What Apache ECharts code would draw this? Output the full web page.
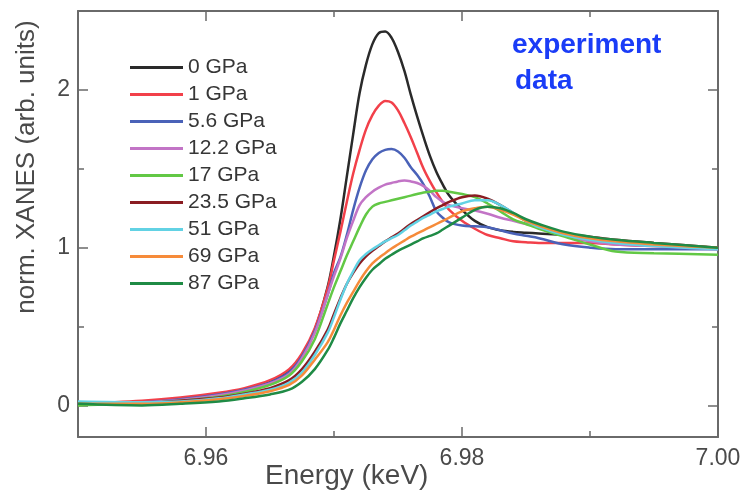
<!DOCTYPE html>
<html>
<head>
<meta charset="utf-8">
<style>
  html, body { margin: 0; padding: 0; background: #ffffff; }
  #chart { width: 746px; height: 500px; }
</style>
<script src="https://cdn.jsdelivr.net/npm/echarts@6/dist/echarts.min.js"></script>
</head>
<body>
<div id="chart"></div>
<script>
// Photon energy grid (keV)
const energy = [6.950, 6.955, 6.958, 6.961, 6.963, 6.965, 6.9665, 6.9675, 6.9685, 6.9695,
  6.970, 6.9705, 6.971, 6.9715, 6.972, 6.9725, 6.973, 6.9735, 6.974, 6.9745,
  6.975, 6.9755, 6.976, 6.9765, 6.977, 6.9775, 6.978, 6.9785, 6.979, 6.980,
  6.981, 6.982, 6.983, 6.984, 6.985, 6.986, 6.988, 6.990, 6.992, 6.995, 7.000];

// Normalised XANES intensity for each pressure
const p0 = [0.01, 0.02, 0.03, 0.06, 0.09, 0.15, 0.22, 0.32, 0.48, 0.75,
  0.95, 1.18, 1.45, 1.72, 1.98, 2.16, 2.29, 2.36, 2.37, 2.33,
  2.24, 2.12, 1.97, 1.83, 1.70, 1.58, 1.48, 1.40, 1.33, 1.24,
  1.17, 1.13, 1.11, 1.10, 1.095, 1.09, 1.08, 1.06, 1.04, 1.02, 1.00];
const p1 = [0.01, 0.03, 0.05, 0.08, 0.11, 0.16, 0.23, 0.33, 0.49, 0.74,
  0.92, 1.10, 1.29, 1.47, 1.62, 1.75, 1.84, 1.90, 1.93, 1.92,
  1.87, 1.79, 1.70, 1.60, 1.50, 1.42, 1.35, 1.29, 1.24, 1.17,
  1.12, 1.08, 1.06, 1.04, 1.035, 1.03, 1.03, 1.03, 1.02, 1.01, 1.00];
const p5_6 = [0.01, 0.02, 0.04, 0.07, 0.10, 0.145, 0.21, 0.31, 0.47, 0.70,
  0.84, 0.94, 1.08, 1.24, 1.38, 1.49, 1.56, 1.60, 1.62, 1.625,
  1.61, 1.57, 1.51, 1.46, 1.40, 1.32, 1.23, 1.19, 1.16, 1.14,
  1.135, 1.13, 1.11, 1.09, 1.075, 1.06, 1.02, 1.00, 0.99, 0.99, 0.99];
const p12_2 = [0.01, 0.02, 0.035, 0.065, 0.095, 0.14, 0.20, 0.30, 0.46, 0.70,
  0.82, 0.93, 1.06, 1.17, 1.27, 1.32, 1.355, 1.38, 1.40, 1.41,
  1.42, 1.425, 1.42, 1.41, 1.39, 1.36, 1.32, 1.29, 1.27, 1.25,
  1.235, 1.215, 1.19, 1.17, 1.15, 1.13, 1.08, 1.04, 1.02, 1.01, 0.99];
const p17 = [0.00, 0.015, 0.03, 0.055, 0.085, 0.13, 0.19, 0.28, 0.42, 0.64,
  0.75, 0.85, 0.95, 1.04, 1.13, 1.21, 1.26, 1.28, 1.29, 1.30,
  1.31, 1.32, 1.33, 1.34, 1.35, 1.355, 1.36, 1.36, 1.355, 1.34,
  1.32, 1.28, 1.23, 1.18, 1.15, 1.12, 1.07, 1.02, 0.975, 0.965, 0.955];
const p23_5 = [0.015, 0.015, 0.03, 0.05, 0.075, 0.11, 0.16, 0.23, 0.34, 0.48,
  0.58, 0.68, 0.77, 0.84, 0.90, 0.945, 0.98, 1.01, 1.04, 1.065,
  1.09, 1.12, 1.15, 1.175, 1.20, 1.225, 1.25, 1.27, 1.29, 1.32,
  1.33, 1.31, 1.27, 1.22, 1.17, 1.14, 1.09, 1.07, 1.05, 1.03, 1.00];
const p51 = [0.025, 0.02, 0.025, 0.045, 0.07, 0.10, 0.145, 0.21, 0.32, 0.46,
  0.56, 0.67, 0.77, 0.85, 0.92, 0.96, 0.99, 1.015, 1.04, 1.06,
  1.08, 1.11, 1.14, 1.165, 1.19, 1.21, 1.23, 1.245, 1.26, 1.28,
  1.30, 1.30, 1.27, 1.22, 1.17, 1.13, 1.08, 1.05, 1.03, 1.01, 0.99];
const p69 = [0.01, 0.01, 0.02, 0.04, 0.06, 0.09, 0.13, 0.19, 0.29, 0.40,
  0.48, 0.57, 0.65, 0.72, 0.79, 0.85, 0.90, 0.935, 0.965, 0.995,
  1.02, 1.045, 1.07, 1.09, 1.11, 1.13, 1.15, 1.17, 1.19, 1.23,
  1.25, 1.26, 1.24, 1.21, 1.17, 1.14, 1.09, 1.06, 1.04, 1.02, 1.00];
const p87 = [0.01, 0.00, 0.01, 0.025, 0.045, 0.07, 0.10, 0.15, 0.23, 0.35,
  0.43, 0.52, 0.60, 0.68, 0.75, 0.81, 0.86, 0.895, 0.93, 0.955,
  0.98, 1.00, 1.02, 1.04, 1.06, 1.075, 1.09, 1.115, 1.14, 1.19,
  1.24, 1.26, 1.25, 1.22, 1.18, 1.15, 1.10, 1.07, 1.05, 1.03, 1.00];

const seriesNames = ['0 GPa', '1 GPa', '5.6 GPa', '12.2 GPa', '17 GPa', '23.5 GPa', '51 GPa', '69 GPa', '87 GPa'];
const seriesValues = [p0, p1, p5_6, p12_2, p17, p23_5, p51, p69, p87];
const seriesColors = ['#2a2a2a', '#f2404a', '#4a62b8', '#c274c6', '#62c845', '#8a1c22', '#62d2e4', '#f68b3a', '#1f8b45'];

// Axis ticks and labels
const xMajorTicks = [6.96, 6.98, 7.00];
const xMinorTicks = [6.97, 6.99];
const xLabels = [6.96, 6.98, 7.00];
const yMajorTicks = [0, 1, 2];
const yMinorTicks = [0.5, 1.5];
const yLabels = [0, 1, 2];

const FONT = 'Liberation Sans, Arial, Helvetica, sans-serif';
const AXIS_COLOR = '#6a6a6a';

function xAxisDef(pos, ticks, len, labels, showLine) {
  return {
    type: 'value', gridIndex: 0, position: pos, min: 6.95, max: 7.00,
    axisLine: { show: showLine, onZero: false, lineStyle: { color: AXIS_COLOR, width: 2 } },
    axisTick: { show: true, inside: true, length: len, customValues: ticks, lineStyle: { color: AXIS_COLOR, width: 1.5 } },
    axisLabel: labels ? {
      show: true, customValues: labels, margin: 10, color: '#4a4a4a', fontSize: 23, fontFamily: FONT,
      formatter: v => v.toFixed(2)
    } : { show: false },
    splitLine: { show: false }
  };
}
function yAxisDef(pos, ticks, len, labels, showLine) {
  return {
    type: 'value', gridIndex: 0, position: pos, min: -0.2, max: 2.5,
    axisLine: { show: showLine, onZero: false, lineStyle: { color: AXIS_COLOR, width: 2 } },
    axisTick: { show: true, inside: true, length: len, customValues: ticks, lineStyle: { color: AXIS_COLOR, width: 1.5 } },
    axisLabel: labels ? {
      show: true, customValues: labels, margin: 8, color: '#4a4a4a', fontSize: 23, fontFamily: FONT,
      formatter: v => String(Math.round(v))
    } : { show: false },
    splitLine: { show: false }
  };
}

const chart = echarts.init(document.getElementById('chart'), null, { renderer: 'canvas' });

chart.setOption({
  backgroundColor: '#ffffff',
  animation: false,
  grid: { left: 78, right: 28, top: 11, bottom: 63, containLabel: false },
  xAxis: [
    xAxisDef('bottom', xMajorTicks, 10, xLabels, true),
    xAxisDef('bottom', xMinorTicks, 6, null, false),
    xAxisDef('top', xMajorTicks, 10, null, true),
    xAxisDef('top', xMinorTicks, 6, null, false)
  ],
  yAxis: [
    yAxisDef('left', yMajorTicks, 10, yLabels, true),
    yAxisDef('left', yMinorTicks, 6, null, false),
    yAxisDef('right', yMajorTicks, 10, null, true),
    yAxisDef('right', yMinorTicks, 6, null, false)
  ],
  legend: {
    orient: 'vertical', left: 130, top: 57, padding: 0,
    icon: 'rect', itemWidth: 53, itemHeight: 3, itemGap: 6,
    textStyle: { fontSize: 21, color: '#363636', fontFamily: FONT, lineHeight: 20 },
    data: seriesNames
  },
  series: seriesNames.map((name, i) => ({
    name: name,
    type: 'line',
    xAxisIndex: 0,
    yAxisIndex: 0,
    smooth: 0.35,
    showSymbol: false,
    symbol: 'none',
    color: seriesColors[i],
    lineStyle: { width: 2.5, color: seriesColors[i] },
    data: energy.map((e, k) => [e, seriesValues[i][k]])
  })),
  graphic: [
    {
      type: 'text', left: 265, top: 462,
      style: { text: 'Energy (keV)', fontSize: 28, fontFamily: FONT, fill: '#4a4a4a' }
    },
    {
      type: 'text', x: 14, y: 167, rotation: Math.PI / 2,
      style: { text: 'norm. XANES (arb. units)', fontSize: 26, fontFamily: FONT, fill: '#4a4a4a',
               align: 'center', verticalAlign: 'top' }
    },
    {
      type: 'text', left: 512, top: 31,
      style: { text: 'experiment', fontSize: 28, fontWeight: 'bold', fontFamily: FONT, fill: '#1a3cf7' }
    },
    {
      type: 'text', left: 515, top: 67,
      style: { text: 'data', fontSize: 28, fontWeight: 'bold', fontFamily: FONT, fill: '#1a3cf7' }
    }
  ]
});
</script>
</body>
</html>
